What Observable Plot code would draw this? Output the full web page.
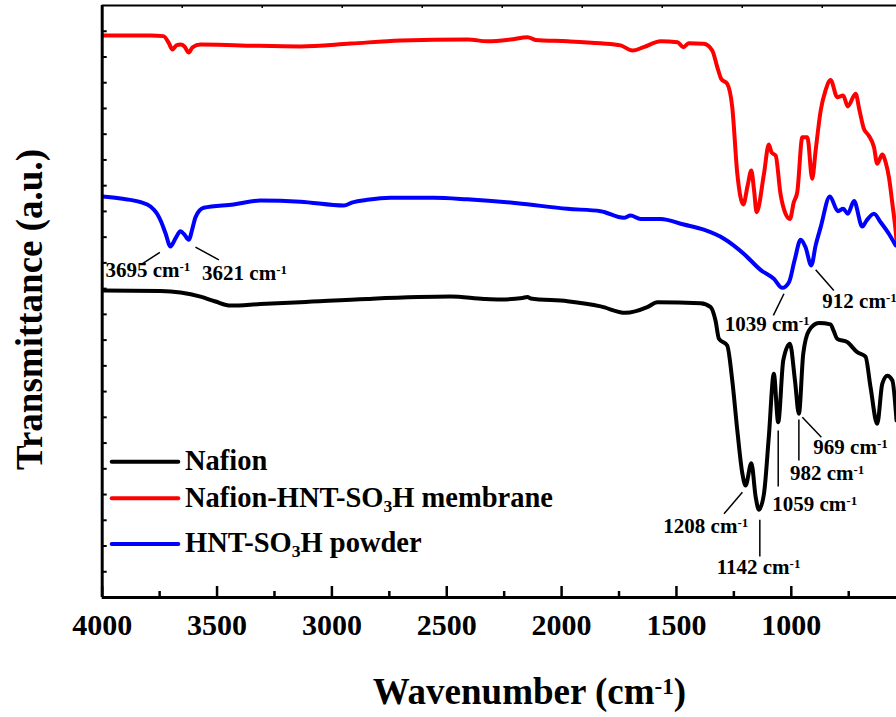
<!DOCTYPE html>
<html><head><meta charset="utf-8">
<script src="https://cdn.jsdelivr.net/npm/d3@7"></script>
<script src="https://cdn.jsdelivr.net/npm/@observablehq/plot@0.6"></script>
<style>
html,body{margin:0;padding:0;background:#fff;overflow:hidden}
#chart{position:relative;width:896px;height:717px}
</style></head><body><div id="chart"></div>
<script>
// ---------- data ----------
const seriesNames = ["Nafion", "Nafion-HNT-SO_{3}H membrane", "HNT-SO_{3}H powder"];
const seriesColors = ["#000000", "#ff0000", "#0000ff"];

const nafionWn = [4000,3746,3659,3572,3507,3441,3311,3137,2846,2483,2338,2266,2170,2148,2135,1975,1830,1722,1627,1583,1395,1351,1330,1315,1279,1257,1235,1213,1199,1174,1155,1141,1119,1098,1076,1057,1035,1006,984,967,948,923,880,829,816,800,756,713,677,655,626,604,582,560,542];
const nafionT = [11.93,11.91,11.85,11.69,11.50,11.34,11.40,11.47,11.60,11.69,11.60,11.58,11.64,11.67,11.62,11.51,11.31,11.06,11.28,11.47,11.43,11.28,10.76,10.05,9.79,8.43,6.49,4.81,4.35,5.22,3.90,3.41,4.03,6.23,8.69,6.81,9.21,9.86,8.43,7.14,9.47,10.37,10.66,10.61,10.37,10.05,9.92,9.53,9.36,8.17,6.75,8.30,8.62,8.43,6.88];

const membraneWn = [4000,3877,3790,3733,3711,3694,3677,3659,3642,3623,3607,3572,3398,3137,2919,2701,2409,2322,2222,2148,2113,1974,1830,1743,1692,1643,1569,1495,1470,1447,1382,1344,1322,1305,1279,1257,1235,1209,1190,1174,1162,1151,1119,1098,1086,1068,1047,1025,1006,989,974,952,930,909,894,872,851,829,800,774,754,720,703,684,663,640,626,604,589,575,559,546,540];
const membraneT = [21.83,21.83,21.83,21.81,21.56,21.29,21.45,21.48,21.41,21.17,21.37,21.48,21.45,21.41,21.52,21.64,21.68,21.61,21.68,21.77,21.66,21.61,21.53,21.45,21.25,21.38,21.61,21.57,21.38,21.53,21.51,21.25,20.60,20.15,19.96,19.05,16.46,15.27,16.01,16.59,15.81,14.97,16.46,17.60,17.29,17.17,15.68,14.91,14.71,15.36,15.75,17.88,17.88,16.27,17.37,18.92,19.70,20.11,19.44,19.50,19.08,19.57,18.92,18.21,17.95,17.49,16.85,17.21,16.90,16.33,15.23,14.26,13.70];

const powderWn = [4000,3920,3833,3790,3761,3742,3724,3703,3681,3659,3642,3623,3607,3594,3558,3428,3311,3137,2948,2910,2846,2745,2557,2411,2193,1975,1830,1729,1700,1656,1569,1468,1381,1293,1206,1134,1076,1039,1010,986,959,938,913,894,872,832,797,774,754,727,691,672,640,611,576,546];
const powderT = [15.58,15.50,15.36,15.19,14.91,14.57,14.14,13.64,13.95,14.23,14.10,13.90,14.34,14.77,15.14,15.27,15.42,15.38,15.23,15.35,15.45,15.53,15.53,15.47,15.32,15.10,15.01,14.75,14.84,14.71,14.71,14.49,14.29,13.94,13.35,12.73,12.38,12.03,12.25,13.09,13.90,13.61,12.90,13.68,14.39,15.58,15.01,15.10,14.91,15.40,14.41,14.65,14.91,14.58,14.14,13.68];

const xTickLabels = [4000,3500,3000,2500,2000,1500,1000];
const xMinorTicks = [3750,3250,2750,2250,1750,1250,750];
const yTicks = [1,2,3,4,5,6,7,8,9,10,11,12,13,14,15,16,17,18,19,20,21,22];
const topTicks = [3651.7,3303.4,2955.1,2606.8,2258.5,1910.2,1561.9,1213.6,865.3];

const peakLabels = ["3695 cm^{-1}","3621 cm^{-1}","1039 cm^{-1}","912 cm^{-1}","1208 cm^{-1}","1142 cm^{-1}","1059 cm^{-1}","982 cm^{-1}","969 cm^{-1}"];
// annotation layout (leader start, leader end, text anchor) in data units
const annotLayout = [
  [3749,13.41,3826,12.96,3986,12.44],
  [3594,13.61,3492,13.12,3565,12.32],
  [1032,11.80,1078,10.96,1290,10.37],
  [894,12.73,815,11.93,865,11.23],
  [1213,4.09,1293,3.25,1557,2.49],
  [1137,3.02,1137,1.59,1325,0.92],
  [1057,6.49,1057,4.31,1083,3.35],
  [967,6.92,967,5.32,1006,4.55],
  [952,7.00,869,6.23,904,5.58]
];

const xTitle = "Wavenumber (cm^{-1})";
const yTitle = "Transmittance (a.u.)";

// ---------- build ----------
const seriesWn = [nafionWn, membraneWn, powderWn];
const seriesT = [nafionT, membraneT, powderT];
const rows = [];
seriesNames.forEach((name, i) => seriesWn[i].forEach((w, j) => rows.push({series: name, wn: w, t: seriesT[i][j]})));
const annots = peakLabels.map((label, i) => {
  const [x1, y1, x2, y2, tx, ty] = annotLayout[i];
  return {label, x1, y1, x2, y2, tx, ty};
});

const W = 896, H = 717, mL = 101.7, mR = 0, mT = 5, mB = 120;
const innerW = W - mL - mR, innerH = H - mT - mB;
const FONT = "'Liberation Serif','Times New Roman',Times,serif";

const plot = Plot.plot({
  width: W, height: H,
  marginLeft: mL, marginRight: mR, marginTop: mT, marginBottom: mB,
  style: {fontFamily: FONT, fontWeight: "bold", background: "white", color: "black"},
  x: {domain: [4000, 542], axis: null},
  y: {domain: [0, 23], axis: null},
  color: {domain: seriesNames, range: seriesColors},
  marks: [
    Plot.line(rows, {x: "wn", y: "t", z: "series", stroke: "series", strokeWidth: 4, curve: "monotone-x", clip: true, strokeLinejoin: "round"}),
    Plot.link(annots, {x1: "x1", y1: "y1", x2: "x2", y2: "y2", stroke: "black", strokeWidth: 1.5}),
    Plot.text(annots, {x: "tx", y: "ty", text: "label", textAnchor: "start", lineAnchor: "bottom", fontSize: 21, fontWeight: "bold", fill: "black"}),
    Plot.ruleX([4000], {stroke: "black", strokeWidth: 3}),
    Plot.ruleY([0], {stroke: "black", strokeWidth: 3}),
    Plot.ruleY([23], {stroke: "black", strokeWidth: 2}),
    Plot.tickX(xTickLabels, {x: d => d, insetTop: innerH - 11, stroke: "black", strokeWidth: 2.5}),
    Plot.tickX(xMinorTicks, {x: d => d, insetTop: innerH - 6, stroke: "black", strokeWidth: 2.5}),
    Plot.tickX(topTicks, {x: d => d, insetBottom: innerH - 3, stroke: "black", strokeWidth: 1.5}),
    Plot.tickY(yTicks, {y: d => d, insetRight: innerW - 5, stroke: "black", strokeWidth: 2}),
    Plot.text(xTickLabels, {x: d => d, text: d => String(d), frameAnchor: "bottom", dy: 37, lineAnchor: "bottom", textAnchor: "middle", fontSize: 30, fontWeight: "bold", fill: "black"}),
    Plot.text([xTitle], {frameAnchor: "bottom", dx: 30, dy: 106, lineAnchor: "bottom", textAnchor: "middle", fontSize: 37, fontWeight: "bold", fill: "black"}),
    Plot.text([yTitle], {frameAnchor: "left", rotate: -90, dx: -60, dy: 8, lineAnchor: "bottom", textAnchor: "middle", fontSize: 37, fontWeight: "bold", fill: "black"})
  ]
});

// legend (inside plot area, lower-left)
const svg = d3.select(plot);
const lg = svg.append("g").attr("font-family", FONT).attr("font-weight", "bold").attr("font-size", 28.5).attr("text-anchor", "start");
const legendRows = [[461.7, 470], [498.3, 506.7], [544, 551.7]];
seriesNames.forEach((name, i) => {
  const [ly, ty] = legendRows[i];
  lg.append("line").attr("x1", 111.7).attr("x2", 178.3).attr("y1", ly).attr("y2", ly)
    .attr("stroke", seriesColors[i]).attr("stroke-width", 4).attr("stroke-linecap", "round");
  lg.append("text").attr("x", 185).attr("y", ty).attr("fill", "black").attr("text-anchor", "start").text(name);
});

// rich text: ^{..} superscript, _{..} subscript
function richText(el) {
  const s = el.textContent;
  if (!/[\^_]\{/.test(s)) return;
  const parts = s.split(/([\^_]\{[^}]*\})/);
  el.textContent = "";
  for (const p of parts) {
    if (!p) continue;
    const t = document.createElementNS("http://www.w3.org/2000/svg", "tspan");
    const m = p.match(/^([\^_])\{([^}]*)\}$/);
    if (m) {
      t.textContent = m[2];
      t.setAttribute("font-size", "62%");
      t.setAttribute("baseline-shift", m[1] === "^" ? "45%" : "-30%");
    } else t.textContent = p;
    el.appendChild(t);
  }
}
plot.querySelectorAll("text").forEach(richText);

document.getElementById("chart").appendChild(plot);
</script></body></html>
